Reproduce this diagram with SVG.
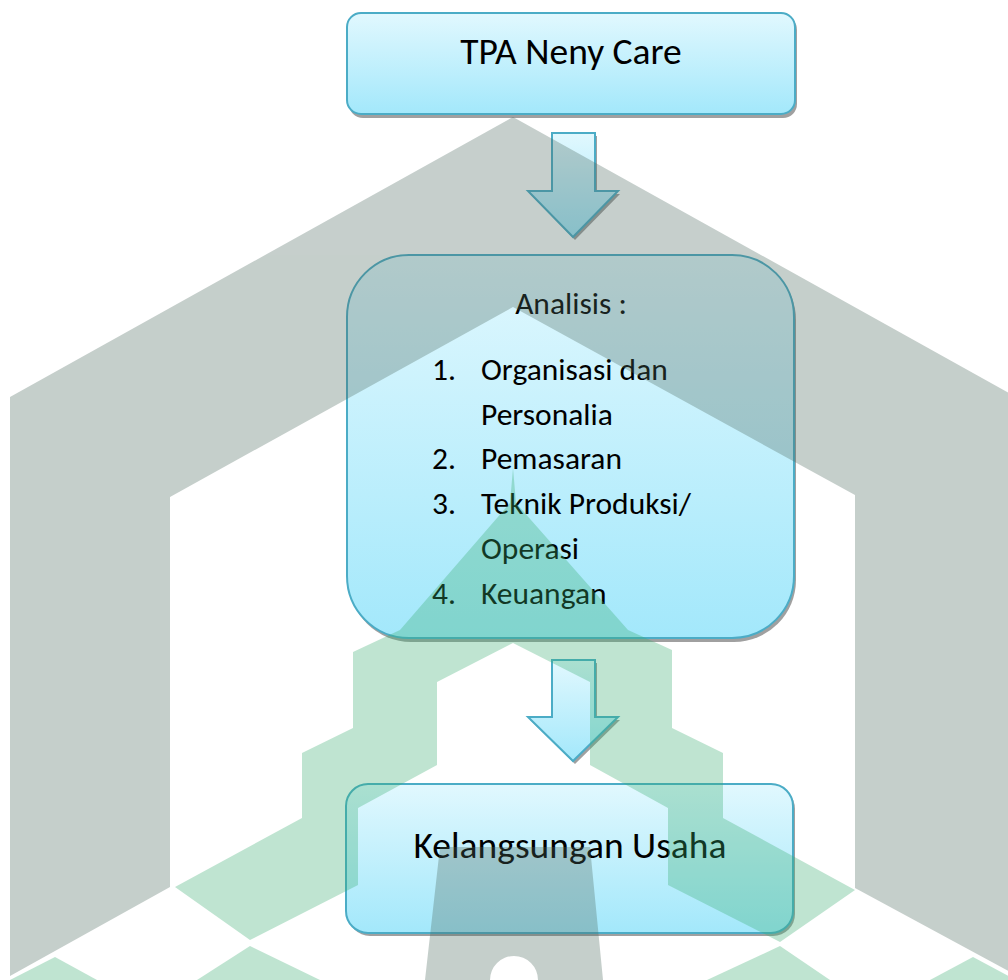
<svg xmlns="http://www.w3.org/2000/svg" width="1008" height="980" viewBox="0 0 1008 980">
<defs>
<linearGradient id="fillG" x1="0" y1="0" x2="0" y2="1">
<stop offset="0" stop-color="#e1f8fe"/>
<stop offset="1" stop-color="#a3e8fb"/>
</linearGradient>
<style>
.box{fill:url(#fillG);stroke:#4bacc6;stroke-width:2}
.shadow{fill:#8f8f8f;opacity:0.85}
.t{font-family:Carlito,Lato,"Liberation Sans",sans-serif;fill:#000}
.big{font-size:37.5px}
.li{font-size:31.5px}
.wg{fill:#4f6b60}
.wn{fill:#3aae72}
</style>
</defs>
<rect width="1008" height="980" fill="#fff"/>
<g id="connectors">
<g id="arrow1">
<path class="shadow" d="M554,136 L597,136 L597,194 L620,194 L575,240 L530,194 L554,194 Z"/>
<path class="box" d="M552,133 L595,133 L595,191 L618,191 L573,237 L528,191 L552,191 Z"/>
</g>
<g id="arrow2">
<path class="shadow" d="M554,663 L597,663 L597,720 L620,720 L575,764 L530,720 L554,720 Z"/>
<path class="box" d="M552,660 L595,660 L595,717 L618,717 L573,761 L528,717 L552,717 Z"/>
</g>
</g>
<g id="node-tpa">
<rect class="shadow" x="349" y="16" width="448" height="102" rx="14"/>
<rect class="box" x="347" y="13" width="448" height="101" rx="14"/>
<text class="t big" x="571" y="64" text-anchor="middle">TPA Neny Care</text>
</g>
<g id="node-analisis">
<rect class="shadow" x="349" y="258" width="447" height="384" rx="62"/>
<rect class="box" x="347" y="255" width="447" height="383" rx="62"/>
<text class="t li" x="571" y="314" text-anchor="middle">Analisis :</text>
<text class="t li" x="432" y="380">1.</text>
<text class="t li" x="481" y="380">Organisasi dan</text>
<text class="t li" x="481" y="425">Personalia</text>
<text class="t li" x="432" y="469">2.</text>
<text class="t li" x="481" y="469">Pemasaran</text>
<text class="t li" x="432" y="514">3.</text>
<text class="t li" x="481" y="514">Teknik Produksi/</text>
<text class="t li" x="481" y="559">Operasi</text>
<text class="t li" x="432" y="604">4.</text>
<text class="t li" x="481" y="604">Keuangan</text>
</g>
<g id="node-kelangsungan">
<rect class="shadow" x="348" y="787" width="447" height="149" rx="22"/>
<rect class="box" x="346" y="784" width="447" height="149" rx="22"/>
<text class="t big" x="570" y="858" text-anchor="middle">Kelangsungan Usaha</text>
</g>
<g id="watermark" opacity="0.32">
<path class="wg" d="M10,397 L513,117 L1016,397 L1016,975 L855,888 L855,495 L513,307 L170,497 L170,887 L10,976 Z"/>
<path class="wg" d="M440,847 L590,847 L603,980 L538,980 A24,24 0 0 0 490,980 L425,980 Z"/>
<path class="wn" d="M513,468 L516,503 L628,630 L672,650 L672,728 L723,753 L723,818 L855,890 L780,942 L668,885 L668,808 L590,765 L590,682 L513,643 L437,682 L437,765 L358,808 L358,885 L250,940 L175,887 L302,818 L302,753 L353,728 L353,652 L400,630 L510,503 Z"/>
<path class="wn" d="M10,980 L55,957 L97,980 Z"/>
<path class="wn" d="M197,980 L250,946 L320,980 Z"/>
<path class="wn" d="M707,980 L780,946 L830,980 Z"/>
<path class="wn" d="M930,980 L973,957 L1016,980 Z"/>
</g>
</svg>
